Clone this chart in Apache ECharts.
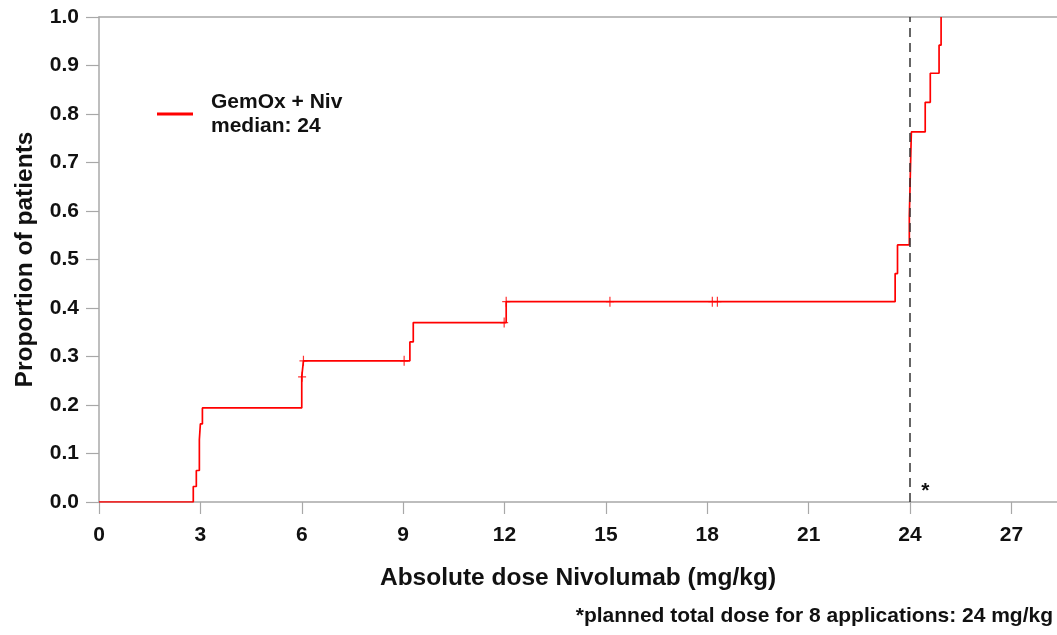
<!DOCTYPE html>
<html><head><meta charset="utf-8">
<script src="https://cdn.jsdelivr.net/npm/echarts@6/dist/echarts.min.js"></script>
<style>html,body{margin:0;padding:0;background:#fff}#c{width:1057px;height:635px}</style>
</head><body><div id="c"></div>
<script>
// Step points (dose at which the cumulative proportion jumps, new proportion)
const eventDose = [0, 2.79, 2.88, 2.97, 3.0, 3.06, 6.0, 6.05, 9.2, 9.3, 12.05, 23.56, 23.63, 23.98, 24.0, 24.02, 24.04, 24.45, 24.6, 24.86, 24.92];
const eventProp = [0, 0.032, 0.065, 0.129, 0.161, 0.194, 0.258, 0.291, 0.330, 0.370, 0.413, 0.471, 0.530, 0.590, 0.647, 0.706, 0.763, 0.824, 0.884, 0.942, 1.0];
// Censored observations
const censorDose = [6.01, 6.05, 9.03, 11.99, 12.05, 15.12, 18.15, 18.3];
const censorProp = [0.258, 0.291, 0.291, 0.370, 0.413, 0.413, 0.413, 0.413];
const xTicks = [0, 3, 6, 9, 12, 15, 18, 21, 24, 27];
const seriesName = 'GemOx + Niv';
const medianText = 'median: 24';
const plannedDose = 24;
const footnote = '*planned total dose for 8 applications: 24 mg/kg';

const font = 'Liberation Sans, Arial, sans-serif';
const red = '#ff0000';
const axisGrey = '#a8a8a8';

const chart = echarts.init(document.getElementById('c'));
chart.setOption({
  animation: false,
  grid: {left: 99, right: 0, top: 17, bottom: 133},
  legend: {
    data: [{name: seriesName, icon: 'rect'}],
    left: 152, top: 85, orient: 'vertical',
    itemWidth: 36, itemHeight: 3,
    formatter: n => n + '\n' + medianText,
    textStyle: {fontFamily: font, fontWeight: 'bold', fontSize: 21, color: '#111', lineHeight: 24, padding: [0, 0, 0, 13]}
  },
  xAxis: [{
    type: 'value', min: 0, max: 28.35, position: 'bottom',
    name: 'Absolute dose Nivolumab (mg/kg)', nameLocation: 'middle', nameGap: 64,
    nameTextStyle: {fontFamily: font, fontWeight: 'bold', fontSize: 24.5, color: '#111'},
    axisLine: {lineStyle: {color: axisGrey, width: 1.5}},
    axisTick: {show: true, length: 12, lineStyle: {color: axisGrey, width: 1.2}, customValues: xTicks},
    axisLabel: {customValues: xTicks, margin: 23, fontFamily: font, fontWeight: 'bold', fontSize: 21, color: '#111'},
    splitLine: {show: false}
  }, {
    type: 'value', min: 0, max: 28.35, position: 'top',
    axisLine: {show: true, lineStyle: {color: axisGrey, width: 1.5}},
    axisTick: {show: false}, axisLabel: {show: false}, splitLine: {show: false}
  }],
  yAxis: {
    type: 'value', min: 0, max: 1, interval: 0.1,
    name: 'Proportion of patients', nameLocation: 'middle', nameGap: 61,
    nameTextStyle: {fontFamily: font, fontWeight: 'bold', fontSize: 24.5, color: '#111'},
    axisLine: {show: true, lineStyle: {color: axisGrey, width: 1.5}},
    axisTick: {show: true, length: 13, lineStyle: {color: axisGrey, width: 1.2}},
    axisLabel: {margin: 20, fontFamily: font, fontWeight: 'bold', fontSize: 21, color: '#111', formatter: v => v.toFixed(1)},
    splitLine: {show: false}
  },
  series: [{
    name: seriesName, type: 'line', step: 'end', symbol: 'none',
    data: eventDose.map((d, i) => [d, eventProp[i]]),
    lineStyle: {color: red, width: 1.7}, itemStyle: {color: red},
    markLine: {
      silent: true, symbol: 'none', label: {show: false},
      lineStyle: {color: '#333', type: [9, 6], width: 1.5},
      data: [{xAxis: plannedDose}]
    },
    markPoint: {
      symbol: 'circle', symbolSize: 0,
      label: {show: true, formatter: '*', fontFamily: font, fontWeight: 'bold', fontSize: 21, color: '#111', offset: [0, 4]},
      data: [{coord: [24.45, 0.03]}]
    },
    z: 3
  }, {
    name: 'censored', type: 'scatter',
    data: censorDose.map((d, i) => [d, censorProp[i]]),
    symbol: 'path://M-0.6,-5L0.6,-5L0.6,-0.6L4,-0.6L4,0.6L0.6,0.6L0.6,5L-0.6,5L-0.6,0.6L-4,0.6L-4,-0.6L-0.6,-0.6Z',
    symbolSize: [8, 10], symbolKeepAspect: false,
    itemStyle: {color: red}, z: 4
  }],
  graphic: [{
    type: 'text', right: 4, top: 606,
    style: {text: footnote, font: 'bold 21px ' + font, fill: '#111'}
  }]
});
</script></body></html>
